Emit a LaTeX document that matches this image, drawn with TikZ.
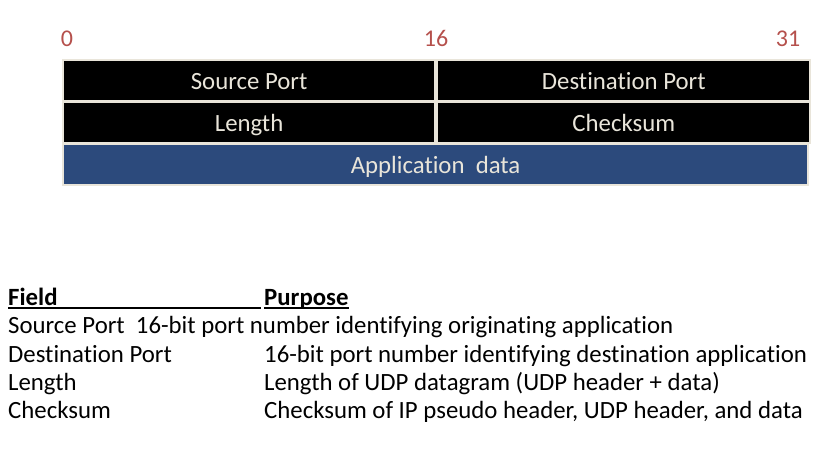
\documentclass[tikz,border=0pt]{standalone}
\usepackage{fontspec}
\setmainfont{Carlito}[Ligatures=NoCommon]
\usepackage{xcolor}
\definecolor{cCell}{HTML}{000000}
\definecolor{cData}{HTML}{2C4A7C}
\definecolor{cEdge}{HTML}{E9E5DA}
\definecolor{cBit}{HTML}{B5504C}
\usepackage{tikz}
\usetikzlibrary{positioning}
\tikzset{
  cell-hdr/.style={draw=cEdge,line width=2.2pt,fill=cCell,text=cEdge,
    inner sep=0pt,minimum height=41pt,text height=17pt,text depth=0pt,
    anchor=north west,font=\fontsize{24.8}{30}\selectfont},
  cell-data/.style={cell-hdr,fill=cData},
  bit-label/.style={text=cBit,inner sep=0pt,anchor=base,font=\fontsize{24}{28}\selectfont},
  tbl-text/.style={inner sep=0pt,anchor=base west,font=\fontsize{24.8}{30}\selectfont},
  tbl-rule/.style={line width=1.5pt},
}
\begin{document}
\begin{tikzpicture}[x=1pt,y=-1pt]
  \useasboundingbox (0,0) rectangle (838,452);
  % bit positions
  \node[bit-label] (bit0) at (67,47) {0};
  \node[bit-label] (bit16) at (436,47) {16};
  \node[bit-label] (bit31) at (788,47) {31};
  % header words
  \node[cell-hdr,minimum width=372pt] (srcport) at (62,59) {Source Port};
  \node[cell-hdr,minimum width=373pt,anchor=north west] (dstport) at (srcport.north east) {Destination Port};
  \node[cell-hdr,minimum width=372pt] (udplen) at (62,101) {Length};
  \node[cell-hdr,minimum width=373pt,anchor=north west] (udpsum) at (udplen.north east) {Checksum};
  \node[cell-data,minimum width=745pt] (appdata) at (62,143) {Application~~data};
  % field table
  \node[tbl-text,font=\fontsize{24.8}{30}\selectfont\bfseries] (hdrfield) at (8,305) {Field};
  \node[tbl-text,font=\fontsize{24.8}{30}\selectfont\bfseries] (hdrpurpose) at (264,305) {Purpose};
  \draw[tbl-rule] ([yshift=-3pt]hdrfield.base west) -- (261,308);
  \draw[tbl-rule] ([yshift=-3pt]hdrpurpose.base west) -- ([yshift=-3pt]hdrpurpose.base east);
  \node[tbl-text] (rowsrc) at (8,333) {Source Port~~16-bit port number identifying originating application};
  \node[tbl-text] (rowdst) at (8,362) {Destination Port};
  \node[tbl-text] (rowdstp) at (264,362) {16-bit port number identifying destination application};
  \node[tbl-text] (rowlen) at (8,390) {Length};
  \node[tbl-text] (rowlenp) at (264,390) {Length of UDP datagram (UDP header + data)};
  \node[tbl-text] (rowsum) at (8,418) {Checksum};
  \node[tbl-text] (rowsump) at (264,418) {Checksum of IP pseudo header, UDP header, and data};
\end{tikzpicture}
\end{document}
